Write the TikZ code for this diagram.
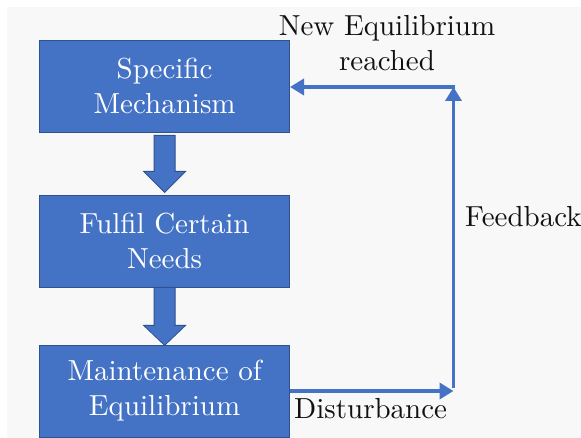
\documentclass[tikz,border=0pt]{standalone}
\usepackage{fontspec}
% the 10pt design of Latin Modern, used at every size
\setmainfont{lmroman10-regular}[Extension=.otf]
\usetikzlibrary{arrows.meta}
\definecolor{boxblue}{HTML}{4472C4}
\definecolor{boxedge}{HTML}{2F528F}
\definecolor{paper}{HTML}{F8F8F8}
\definecolor{ink}{HTML}{111111}
\begin{document}
\begin{tikzpicture}[x=1pt,y=-1pt,
  txt/.style={font=\fontsize{29}{35}\selectfont},
  stagebox/.style={txt,draw=boxedge,line width=0.8pt,fill=boxblue,text=white,
    minimum width=250pt,minimum height=92pt,inner sep=0pt,align=center},
  blockarrow/.style={draw=boxedge,line width=0.8pt,fill=boxblue,line join=miter},
  fb/.style={draw=boxblue,line width=3.5pt,-{Triangle[length=14pt,width=16pt]}},
  lbl/.style={txt,text=ink,inner sep=0pt,align=center}]
% canvas and page frame
\useasboundingbox (0,0) rectangle (581,438);
\fill[white] (0,0) rectangle (581,438);
\fill[paper] (7,7) rectangle (581,438);

% the three stages
\node[stagebox] (s) at (164.6,86)  {Specific\\Mechanism};
\node[stagebox] (f) at (164.6,241) {Fulfil Certain\\Needs};
\node[stagebox] (m) at (164.6,391) {Maintenance of\\Equilibrium};

% block arrows between stages
\draw[blockarrow,shift={(s.south)}] (-10.5,3) -- (10.5,3) -- (10.5,39) -- (21,39)
  -- (0,60) -- (-21,39) -- (-10.5,39) -- cycle;
\draw[blockarrow,shift={(f.south)}] (-10.5,0) -- (10.5,0) -- (10.5,38) -- (21,38)
  -- (0,58) -- (-21,38) -- (-10.5,38) -- cycle;

% feedback loop
\coordinate (dR) at (453.5,391);
\coordinate (nT) at (453.5,87);
\coordinate (nTr) at (455.2,87);
\draw[fb] (m.east) -- (dR);
\draw[fb] (453.5,388) -- (nT);
\draw[fb] (nTr) -- (s.east |- nT);

% labels
\node[lbl,anchor=base] (ne) at (387,36) {New Equilibrium};
\node[lbl,anchor=base] (re) at (387,71) {reached};
\node[lbl,anchor=base west] (fbk) at (465,227) {Feedback};
\node[lbl,anchor=base west] (dist) at (294,418) {Disturbance};
\end{tikzpicture}
\end{document}
